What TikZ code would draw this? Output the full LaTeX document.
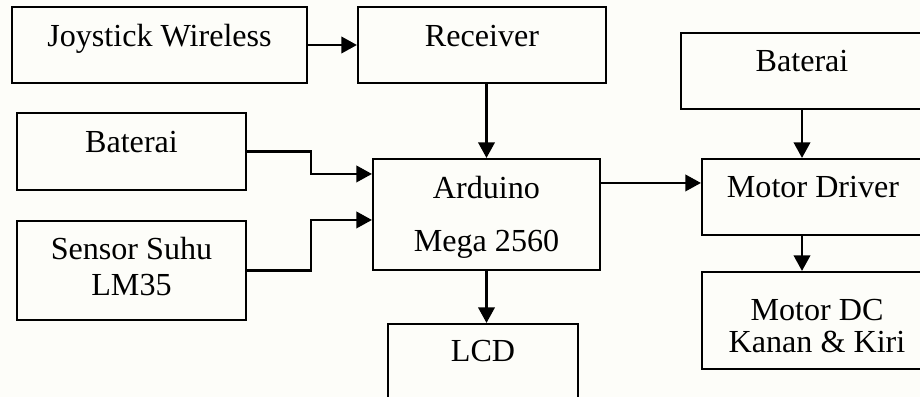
\documentclass[tikz,border=0pt]{standalone}
\usepackage{fontspec}
\setmainfont{Liberation Serif}
\usetikzlibrary{positioning, calc, arrows.meta, fit}
\definecolor{kertas}{RGB}{253,253,249}
\tikzset{
    blok/.style={draw, line width=0.8pt, inner sep=0pt, fit={#1}},
    teks/.style={anchor=base, align=center, inner sep=0pt, font=\fontsize{12.3pt}{14pt}\selectfont},
    panah/.style={-{Triangle[length=6pt, width=6.3pt]}, line width=1pt},
}

\begin{document}
\begin{tikzpicture}[x=0.383pt, y=-0.383pt]
    % Canvas
    \fill[kertas] (0,0) rectangle (920,397);
    \useasboundingbox (0,0) rectangle (920,397);
    \clip (0,0) rectangle (920,397);

    % Blocks
    \node[blok={(12,7) (307,83)}] (joy) {};
    \node[blok={(358,7) (606,83)}] (rec) {};
    \node[blok={(17,113) (246,190)}] (batL) {};
    \node[blok={(17,221) (246,320)}] (sens) {};
    \node[blok={(373,159) (600,270)}] (ard) {};
    \node[blok={(388,324) (578,430)}] (lcd) {};
    \node[blok={(681,33) (923,109)}] (batR) {};
    \node[blok={(702,159) (924,235)}] (drv) {};
    \node[blok={(702,272) (932,369)}] (mdc) {};

    % Labels (base = last line)
    \node[teks] (joyT) at ($(joy.north)+(0,41)$) {Joystick Wireless};
    \node[teks] (recT) at ($(rec.north)+(0,41)$) {Receiver};
    \node[teks] (batLT) at ($(batL.north)+(0,41)$) {Baterai};
    \node[teks] (sensT) at ($(sens.north)+(0,76)$) {Sensor Suhu\\LM35};
    \node[teks] (ardT) at ($(ard.north)+(0,94)$) {Arduino\\[6.3pt]Mega 2560};
    \node[teks] (lcdT) at ($(lcd.north)+(0,39)$) {LCD};
    \node[teks] (batRT) at ($(batR.north)+(0,40)$) {Baterai};
    \node[teks] (drvT) at ($(drv.north)+(0,40)$) {Motor Driver};
    \node[teks] (mdcT) at ($(mdc.north)+(0,82)$) {Motor DC\\[-1.4pt]Kanan \& Kiri};

    % Inputs of the Arduino
    \coordinate (in1) at ($(ard.north west)+(0,16)$);
    \coordinate (in2) at ($(ard.north west)+(0,62)$);
    \coordinate (ardOut) at ($(ard.north east)+(0,25)$);

    % Arrows
    \draw[panah] (joy.east) -- (rec.west);
    \draw[panah] (rec.south -| ard.north) -- (ard.north);
    \draw[panah] (batL.east) -- ++(64,0) |- (in1);
    \draw[panah] (sens.east) -- ++(64,0) |- (in2);
    \draw[panah] (ard.south) -- (ard.south |- lcd.north);
    \draw[panah] (ardOut) -- (ardOut -| drv.west);
    \draw[panah] (batR.south) -- (batR.south |- drv.north);
    \draw[panah] (drv.south -| batR.south) -- (mdc.north -| batR.south);
\end{tikzpicture}
\end{document}
